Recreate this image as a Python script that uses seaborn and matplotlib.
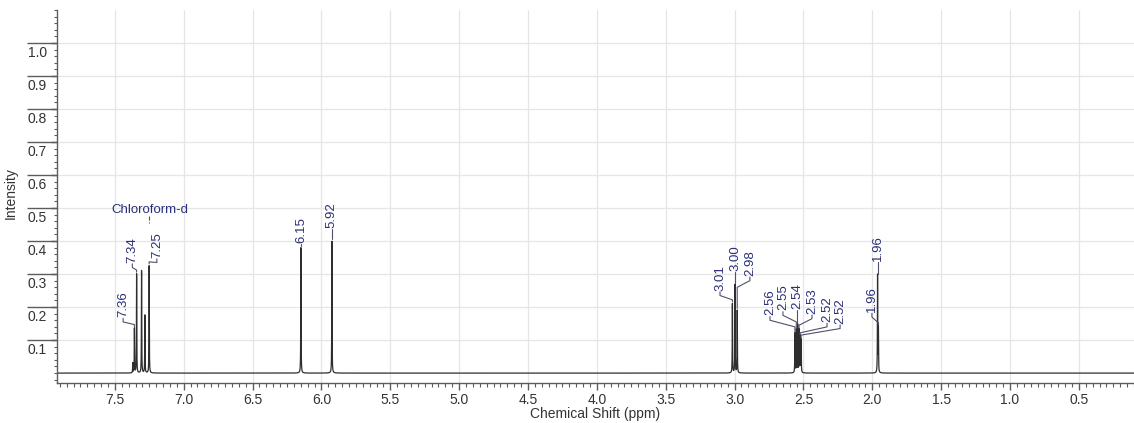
import numpy as np
import pandas as pd
import matplotlib
matplotlib.use("Agg")
import matplotlib.pyplot as plt
import matplotlib.ticker as mticker
import matplotlib.transforms as mtrans
import seaborn as sns

# ---------------------------------------------------------------------------
# Peak table (ppm, relative intensity)
# ---------------------------------------------------------------------------
PEAK_SHIFT  = [7.370, 7.358, 7.342, 7.306, 7.282, 7.251, 6.149, 5.924,
               3.016, 2.997, 2.981, 2.562, 2.552, 2.542, 2.532, 2.524, 2.517,
               1.962, 1.956]
PEAK_HEIGHT = [0.030, 0.135, 0.300, 0.310, 0.175, 0.325, 0.380, 0.400,
               0.210, 0.268, 0.190, 0.120, 0.130, 0.145, 0.130, 0.110, 0.100,
               0.295, 0.140]

# peak labels and the peak (index in table) each one points to
LABEL_TEXT = ["7.36", "7.34", "7.25", "6.15", "5.92", "3.01", "3.00", "2.98",
              "2.56", "2.55", "2.54", "2.53", "2.52", "2.52", "1.96", "1.96"]
LABEL_PEAK = [1, 2, 5, 6, 7, 8, 9, 10, 11, 12, 13, 14, 15, 16, 18, 17]

X_TICKS = [7.5, 7.0, 6.5, 6.0, 5.5, 5.0, 4.5, 4.0, 3.5, 3.0, 2.5, 2.0, 1.5, 1.0, 0.5]
Y_TICKS = [0.1, 0.2, 0.3, 0.4, 0.5, 0.6, 0.7, 0.8, 0.9, 1.0]

# label placement (ppm of label centre, intensity of label bottom)
LABEL_X = [7.440, 7.373, 7.195, 6.149, 5.924, 3.106, 2.997, 2.889,
           2.743, 2.649, 2.547, 2.438, 2.329, 2.234, 2.003, 1.960]
LABEL_Y = [0.170, 0.335, 0.350, 0.395, 0.440, 0.250, 0.310, 0.295,
           0.175, 0.190, 0.195, 0.180, 0.155, 0.150, 0.185, 0.340]

# ---------------------------------------------------------------------------
# Style
# ---------------------------------------------------------------------------
NAVY  = "#2a2f78"
LEAD  = "#50506a"
LINE  = "#2e2e2e"
GRID  = "#e6e6e6"
TICK  = "#5c5c5c"

sns.set_theme(style="white")
plt.rcParams.update({
    "font.family": ["Liberation Sans", "DejaVu Sans"],
    "font.size": 10,
    "axes.edgecolor": TICK,
    "axes.linewidth": 1.0,
    "xtick.color": TICK,
    "ytick.color": TICK,
    "xtick.labelcolor": "#333333",
    "ytick.labelcolor": "#333333",
    "xtick.bottom": True,
    "ytick.left": True,
})

# spectrum built from the peak table (Lorentzian line shape)
ppm = np.linspace(7.92, 0.10, 60000)
hwhm = 0.0012
inten = np.zeros_like(ppm)
for s, h in zip(PEAK_SHIFT, PEAK_HEIGHT):
    inten += h / (1.0 + ((ppm - s) / hwhm) ** 2)
spec = pd.DataFrame({"ppm": ppm, "intensity": inten})

fig = plt.figure(figsize=(11.34, 4.23), dpi=100)
ax = fig.add_axes([57 / 1134, 1 - 383 / 423, 1 - 57 / 1134, 373 / 423])

sns.lineplot(data=spec, x="ppm", y="intensity", ax=ax, color=LINE,
             linewidth=0.9, estimator=None, sort=False)

ax.set_xlim(7.92, 0.10)
ax.set_ylim(-0.03, 1.10)

ax.xaxis.set_major_locator(mticker.FixedLocator(X_TICKS))
ax.xaxis.set_minor_locator(mticker.MultipleLocator(0.05))
ax.xaxis.set_major_formatter(mticker.FormatStrFormatter("%.1f"))
ax.yaxis.set_major_locator(mticker.FixedLocator(Y_TICKS))
ax.yaxis.set_minor_locator(mticker.MultipleLocator(0.02))
ax.yaxis.set_major_formatter(mticker.FormatStrFormatter("%.1f"))

ax.grid(True, which="major", color=GRID, linewidth=0.9)
for side in ("top", "right"):
    ax.spines[side].set_visible(False)

ax.tick_params(axis="x", which="major", direction="out", length=5, width=1,
               pad=2, labelsize=10, bottom=True)
ax.tick_params(axis="x", which="minor", direction="out", length=3, width=0.8,
               bottom=True)
# y labels sit inside the long tick, hanging just under it
ax.tick_params(axis="y", which="major", direction="out", length=4, width=1,
               pad=7.2 - 4, labelsize=10, left=True)
ax.tick_params(axis="y", which="minor", direction="out", length=2.5, width=0.8,
               left=True)
drop = mtrans.ScaledTranslation(0, -2.5 / 100, fig.dpi_scale_trans)
for lab in ax.get_yticklabels():
    lab.set_verticalalignment("top")
    lab.set_transform(lab.get_transform() + drop)
# the long "underline" y ticks
ax.hlines(Y_TICKS, -30 / 1077, 0, transform=ax.get_yaxis_transform(),
          colors=TICK, linewidth=1.0, clip_on=False)

ax.set_xlabel("Chemical Shift (ppm)", fontsize=10, color="#333333", labelpad=0)
ax.set_ylabel("Intensity", fontsize=10, color="#333333")
ax.yaxis.set_label_coords(-39 / 1077, 0.51)

# peak labels with leader lines
for text, pk, lx, ly in zip(LABEL_TEXT, LABEL_PEAK, LABEL_X, LABEL_Y):
    px, ph = PEAK_SHIFT[pk], PEAK_HEIGHT[pk]
    ax.text(lx, ly, text, rotation=90, ha="center", va="bottom",
            fontsize=9.5, color=NAVY)
    if abs(lx - px) < 0.02:
        ax.plot([lx, lx], [ly - 0.004, ph + 0.006], color=LEAD, lw=0.8)
    else:
        y3 = max(ly - 0.035, ph + 0.012)
        ax.plot([lx, lx, px, px], [ly - 0.004, ly - 0.015, y3, ph + 0.006],
                color=LEAD, lw=0.8)

# solvent annotation
ax.text(7.246, 0.495, "Chloroform-d", ha="center", va="center",
        fontsize=9.5, color=NAVY)
ax.plot([7.251, 7.251], [0.475, 0.455], color=LEAD, lw=0.8, ls="--")

fig.savefig("out.png", dpi=100)
plt.close(fig)
